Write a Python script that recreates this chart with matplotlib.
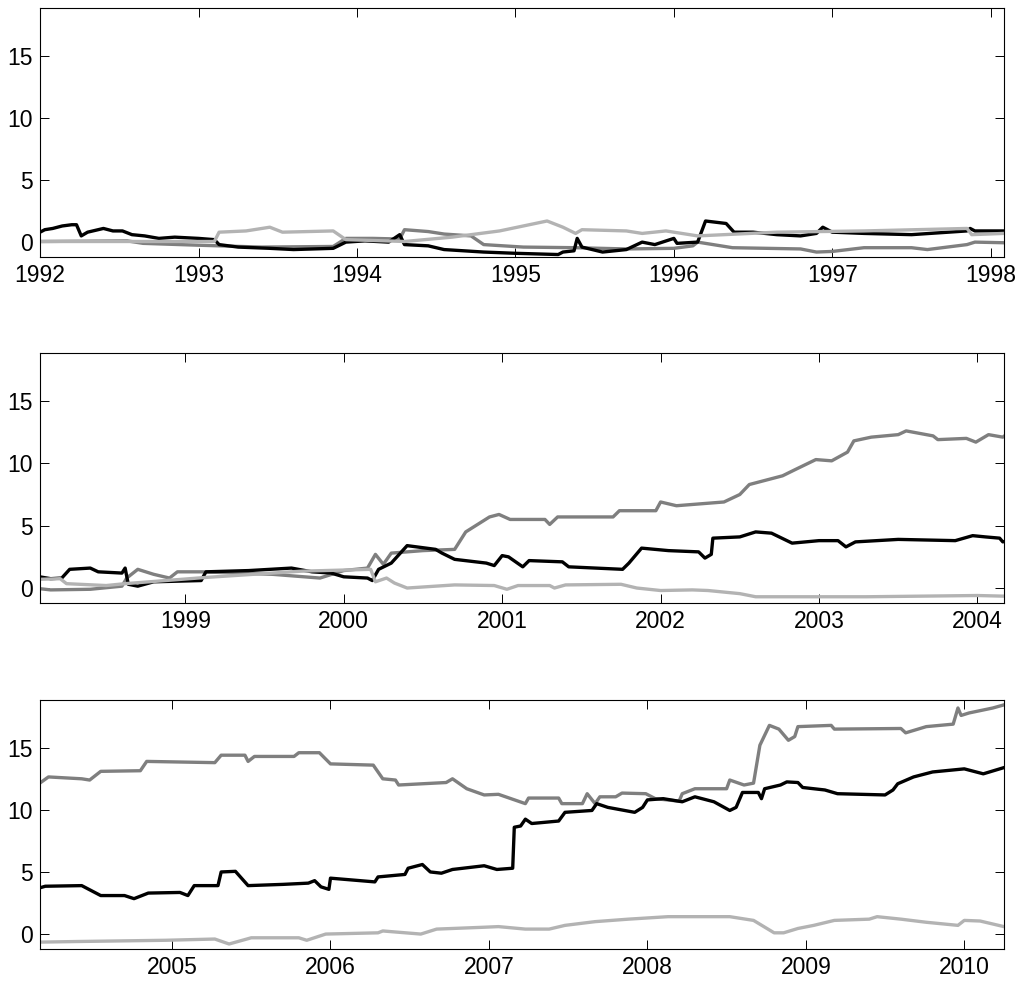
import matplotlib
matplotlib.use("Agg")
import matplotlib.pyplot as plt
import numpy as np

plt.rcParams["font.family"] = ["Liberation Sans", "DejaVu Sans"]

# black series
t_black = [1992.00, 1992.03, 1992.08, 1992.14, 1992.20, 1992.23, 1992.26, 1992.30, 1992.40, 1992.46,
           1992.52, 1992.58, 1992.66, 1992.75, 1992.85, 1993.00, 1993.10, 1993.13, 1993.25, 1993.45,
           1993.60, 1993.85, 1993.93, 1994.05, 1994.20, 1994.27, 1994.30, 1994.45, 1994.55, 1994.80,
           1995.00, 1995.27, 1995.30, 1995.37, 1995.39, 1995.42, 1995.55, 1995.70, 1995.80, 1995.88,
           1996.00, 1996.02, 1996.15, 1996.20, 1996.33, 1996.38, 1996.50, 1996.65, 1996.80, 1996.90,
           1996.94, 1997.00, 1997.20, 1997.50, 1997.85, 1997.87, 1997.90, 1998.08,
           1998.15, 1998.22, 1998.27, 1998.40, 1998.45, 1998.60, 1998.62, 1998.64, 1998.70, 1998.80,
           1999.10, 1999.13, 1999.40, 1999.67, 1999.80, 1999.92, 2000.00, 2000.15, 2000.18, 2000.22,
           2000.30, 2000.40, 2000.58, 2000.62, 2000.70, 2000.90, 2000.95, 2001.00, 2001.04, 2001.13,
           2001.17, 2001.38, 2001.42, 2001.76, 2001.80, 2001.88, 2002.05, 2002.24, 2002.28, 2002.32,
           2002.33, 2002.50, 2002.60, 2002.70, 2002.83, 2003.00, 2003.12, 2003.17, 2003.23, 2003.50,
           2003.86, 2003.97, 2004.05, 2004.14, 2004.16,
           2004.20, 2004.43, 2004.55, 2004.70, 2004.76, 2004.85, 2005.05, 2005.10, 2005.14, 2005.29,
           2005.31, 2005.40, 2005.48, 2005.70, 2005.86, 2005.90, 2005.94, 2005.99, 2006.00, 2006.28,
           2006.30, 2006.47, 2006.49, 2006.58, 2006.63, 2006.70, 2006.77, 2006.97, 2007.05, 2007.15,
           2007.16, 2007.20, 2007.23, 2007.27, 2007.44, 2007.48, 2007.65, 2007.68, 2007.75, 2007.92,
           2007.97, 2008.00, 2008.10, 2008.22, 2008.30, 2008.42, 2008.52, 2008.56, 2008.60, 2008.70,
           2008.72, 2008.74, 2008.84, 2008.88, 2008.95, 2008.98, 2009.12, 2009.20, 2009.50, 2009.55,
           2009.58, 2009.68, 2009.80, 2010.00, 2010.12, 2010.25]
v_black = [0.8, 1.0, 1.1, 1.3, 1.4, 1.4, 0.5, 0.8, 1.1, 0.9,
           0.9, 0.6, 0.5, 0.3, 0.4, 0.3, 0.2, -0.2, -0.4, -0.5,
           -0.6, -0.5, 0.0, 0.1, 0.0, 0.6, -0.2, -0.3, -0.6, -0.8,
           -0.9, -1.0, -0.8, -0.7, 0.3, -0.4, -0.8, -0.6, 0.0, -0.2,
           0.3, -0.1, 0.0, 1.7, 1.5, 0.8, 0.8, 0.6, 0.5, 0.7,
           1.2, 0.8, 0.7, 0.6, 0.9, 1.1, 0.9, 0.9,
           0.75, 0.8, 1.5, 1.6, 1.3, 1.2, 1.6, 0.3, 0.15, 0.5,
           0.6, 1.3, 1.4, 1.6, 1.3, 1.2, 0.9, 0.8, 0.6, 1.5,
           2.0, 3.4, 3.1, 2.8, 2.3, 2.0, 1.8, 2.6, 2.5, 1.7,
           2.2, 2.1, 1.7, 1.5, 2.0, 3.2, 3.0, 2.9, 2.4, 2.7,
           4.0, 4.1, 4.5, 4.4, 3.6, 3.8, 3.8, 3.3, 3.7, 3.9,
           3.8, 4.2, 4.1, 4.0, 3.7,
           3.85, 3.9, 3.1, 3.1, 2.85, 3.3, 3.35, 3.1, 3.9, 3.9,
           5.0, 5.05, 3.9, 4.0, 4.1, 4.3, 3.8, 3.6, 4.5, 4.2,
           4.6, 4.8, 5.3, 5.6, 5.0, 4.9, 5.2, 5.5, 5.2, 5.3,
           8.6, 8.7, 9.25, 8.9, 9.1, 9.8, 9.95, 10.5, 10.2, 9.8,
           10.2, 10.8, 10.9, 10.65, 11.05, 10.65, 9.95, 10.2, 11.4, 11.4,
           10.9, 11.7, 12.0, 12.25, 12.2, 11.8, 11.6, 11.3, 11.2, 11.6,
           12.1, 12.65, 13.05, 13.3, 12.9, 13.4]

# dark grey series
t_dark = [1992.00, 1992.55, 1992.65, 1993.00, 1993.40, 1993.85, 1993.93, 1994.10, 1994.27, 1994.30,
          1994.45, 1994.55, 1994.72, 1994.80, 1995.05, 1995.38, 1995.70, 1996.00, 1996.12, 1996.15,
          1996.37, 1996.80, 1996.90, 1997.00, 1997.20, 1997.50, 1997.60, 1997.85, 1997.90, 1998.08,
          1998.15, 1998.40, 1998.60, 1998.63, 1998.70, 1998.80, 1998.90, 1998.95, 1999.10, 1999.55,
          1999.85, 2000.00, 2000.15, 2000.20, 2000.25, 2000.30, 2000.50, 2000.70, 2000.77, 2000.92,
          2000.98, 2001.05, 2001.27, 2001.30, 2001.35, 2001.70, 2001.74, 2001.97, 2002.00, 2002.10,
          2002.40, 2002.50, 2002.56, 2002.77, 2002.85, 2002.98, 2003.08, 2003.18, 2003.22, 2003.33,
          2003.50, 2003.55, 2003.72, 2003.75, 2003.93, 2003.99, 2004.07, 2004.16,
          2004.22, 2004.43, 2004.48, 2004.55, 2004.80, 2004.84, 2005.27, 2005.31, 2005.46, 2005.48,
          2005.52, 2005.77, 2005.80, 2005.93, 2006.00, 2006.27, 2006.33, 2006.41, 2006.43, 2006.73,
          2006.77, 2006.86, 2006.97, 2007.06, 2007.23, 2007.25, 2007.44, 2007.46, 2007.59, 2007.62,
          2007.67, 2007.70, 2007.80, 2007.84, 2007.99, 2008.05, 2008.20, 2008.22, 2008.30, 2008.50,
          2008.52, 2008.61, 2008.67, 2008.71, 2008.77, 2008.83, 2008.89, 2008.93, 2008.95, 2009.16,
          2009.18, 2009.60, 2009.63, 2009.76, 2009.93, 2009.96, 2009.98, 2010.03, 2010.18, 2010.25]
v_dark = [0.05, 0.1, -0.1, -0.25, -0.4, -0.35, 0.3, 0.3, 0.25, 1.0,
          0.85, 0.65, 0.5, -0.2, -0.4, -0.45, -0.55, -0.5, -0.3, 0.0,
          -0.45, -0.55, -0.8, -0.75, -0.45, -0.45, -0.6, -0.2, 0.0, -0.05,
          -0.15, -0.1, 0.15, 0.8, 1.5, 1.1, 0.8, 1.3, 1.3, 1.1,
          0.8, 1.4, 1.6, 2.7, 1.9, 2.8, 3.0, 3.1, 4.5, 5.7,
          5.9, 5.5, 5.5, 5.1, 5.7, 5.7, 6.2, 6.2, 6.9, 6.6,
          6.9, 7.5, 8.3, 9.0, 9.5, 10.3, 10.2, 10.9, 11.8, 12.1,
          12.3, 12.6, 12.2, 11.9, 12.0, 11.7, 12.3, 12.1,
          12.65, 12.5, 12.4, 13.1, 13.15, 13.9, 13.8, 14.4, 14.4, 13.9,
          14.3, 14.3, 14.6, 14.6, 13.7, 13.6, 12.5, 12.4, 12.0, 12.2,
          12.5, 11.7, 11.2, 11.25, 10.5, 10.95, 10.95, 10.5, 10.5, 11.3,
          10.5, 11.05, 11.05, 11.35, 11.3, 10.9, 10.7, 11.3, 11.7, 11.7,
          12.4, 12.0, 12.15, 15.2, 16.8, 16.5, 15.6, 15.9, 16.7, 16.8,
          16.5, 16.55, 16.2, 16.7, 16.9, 18.2, 17.6, 17.8, 18.2, 18.45]

# light grey series
t_light = [1992.00, 1993.10, 1993.13, 1993.30, 1993.45, 1993.53, 1993.85, 1993.93, 1994.30, 1994.60,
           1994.90, 1995.20, 1995.30, 1995.38, 1995.42, 1995.70, 1995.80, 1995.95, 1996.15, 1996.65,
           1997.20, 1997.85, 1997.88, 1998.08,
           1998.21, 1998.25, 1998.50, 1998.62, 1999.13, 1999.73, 2000.17, 2000.20, 2000.27, 2000.32,
           2000.40, 2000.70, 2000.95, 2001.03, 2001.10, 2001.30, 2001.33, 2001.40, 2001.75, 2001.85,
           2002.00, 2002.20, 2002.30, 2002.50, 2002.60, 2003.30, 2004.00, 2004.16,
           2004.40, 2004.96, 2005.27, 2005.36, 2005.50, 2005.80, 2005.85, 2005.97, 2006.30, 2006.33,
           2006.57, 2006.67, 2006.97, 2007.06, 2007.23, 2007.38, 2007.48, 2007.67, 2007.88, 2008.13,
           2008.52, 2008.67, 2008.80, 2008.86, 2008.95, 2009.05, 2009.18, 2009.40, 2009.45, 2009.60,
           2009.76, 2009.96, 2010.00, 2010.10, 2010.25]
v_light = [0.05, 0.05, 0.8, 0.9, 1.2, 0.8, 0.9, 0.2, 0.05, 0.4,
           0.9, 1.7, 1.2, 0.7, 1.0, 0.9, 0.7, 0.9, 0.5, 0.8,
           0.9, 1.1, 0.6, 0.7,
           0.75, 0.35, 0.2, 0.35, 0.85, 1.35, 1.5, 0.5, 0.8, 0.4,
           0.0, 0.25, 0.2, -0.1, 0.2, 0.2, 0.0, 0.25, 0.3, 0.0,
           -0.2, -0.15, -0.2, -0.45, -0.7, -0.7, -0.6, -0.65,
           -0.6, -0.5, -0.4, -0.8, -0.3, -0.3, -0.5, 0.0, 0.1, 0.25,
           0.0, 0.4, 0.55, 0.6, 0.4, 0.4, 0.7, 1.0, 1.2, 1.4,
           1.4, 1.1, 0.1, 0.1, 0.45, 0.7, 1.1, 1.2, 1.4, 1.2,
           0.95, 0.7, 1.1, 1.05, 0.6]

panel_ranges = [(1992.0, 1998.083), (1998.083, 2004.167), (2004.167, 2010.25)]
panel_ticks = [range(1992, 1999), range(1999, 2005), range(2005, 2011)]
y_ticks = [0, 5, 10, 15]

fig = plt.figure(figsize=(10.27, 9.84), dpi=100)
boxes = [(0.039, 0.7388, 0.9385, 0.2531),
         (0.039, 0.3872, 0.9385, 0.2541),
         (0.039, 0.0356, 0.9385, 0.2531)]

for box, (x0, x1), ticks in zip(boxes, panel_ranges, panel_ticks):
    ax = fig.add_axes(box)
    ax.plot(t_dark, v_dark, color="#7f7f7f", lw=2.4)
    ax.plot(t_black, v_black, color="black", lw=2.4)
    ax.plot(t_light, v_light, color="#b3b3b3", lw=2.4)
    ax.set_xlim(x0, x1)
    ax.set_ylim(-1.2, 18.85)
    ax.set_xticks(list(ticks))
    ax.set_xticklabels([str(y) for y in ticks])
    ax.set_yticks(y_ticks)
    ax.tick_params(direction="in", top=True, right=True, length=6.5, width=0.7,
                   labelsize=16.5, pad=5)
    for s in ax.spines.values():
        s.set_linewidth(0.8)

fig.savefig("out.png", dpi=100)
